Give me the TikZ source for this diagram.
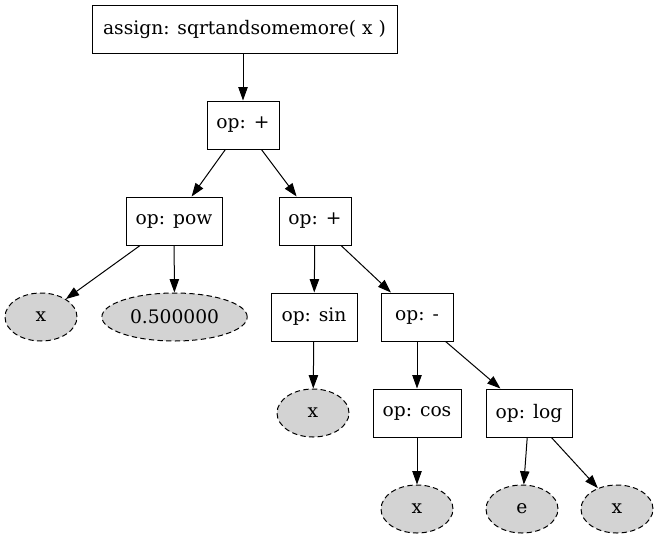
\documentclass[tikz,border=0pt]{standalone}
\usepackage{fontspec}
\setmainfont{DejaVu Serif}
\usetikzlibrary{arrows.meta,shapes.geometric}
\begin{document}
\begin{tikzpicture}[x=1pt,y=1pt,
  box/.style={draw, line width=0.75pt, rectangle, minimum height=36pt, inner sep=0pt, font=\fontsize{14}{16}\selectfont},
  leaf/.style={draw, line width=0.75pt, ellipse, dash pattern=on 4pt off 2.5pt, fill={rgb,255:red,211;green,211;blue,211}, minimum height=36pt, inner sep=0pt, font=\fontsize{14}{16}\selectfont},
  edge/.style={line width=0.75pt, -{Triangle[length=10pt,width=7pt]}}]
\useasboundingbox (0,0) rectangle (494.25,-404.25);
\node[box, minimum width=228.75pt] (assign) at (183.4,-21.75) {assign: sqrtandsomemore( x )};
\node[box, minimum width=54pt] (plus1) at (182.25,-93.75) {op: +};
\node[box, minimum width=72pt] (pow) at (130.5,-165.75) {op: pow};
\node[box, minimum width=54pt] (plus2) at (236.25,-165.75) {op: +};
\node[leaf, minimum width=54pt] (x1) at (30.75,-237.75) {x};
\node[leaf, minimum width=109pt] (half) at (130.9,-237.75) {0.500000};
\node[box, minimum width=64.5pt] (sin) at (235.5,-237.75) {op: sin};
\node[box, minimum width=54pt] (minus) at (312.75,-237.75) {op: -};
\node[leaf, minimum width=54pt] (x2) at (234.75,-309.75) {x};
\node[box, minimum width=66pt] (cos) at (312.75,-309.75) {op: cos};
\node[box, minimum width=64.5pt] (log) at (396.75,-309.75) {op: log};
\node[leaf, minimum width=54pt] (x3) at (312.75,-381.75) {x};
\node[leaf, minimum width=54pt] (e) at (391.5,-381.75) {e};
\node[leaf, minimum width=54pt] (x4) at (462.75,-381.75) {x};
\draw[edge] (assign.south -| plus1) -- (plus1);
\draw[edge] (plus1) -- (pow);
\draw[edge] (plus1) -- (plus2);
\draw[edge] (pow) -- (x1);
\draw[edge] (pow) -- (half);
\draw[edge] (plus2) -- (sin);
\draw[edge] (plus2) -- (minus);
\draw[edge] (sin) -- (x2);
\draw[edge] (minus) -- (cos);
\draw[edge] (minus) -- (log);
\draw[edge] (cos) -- (x3);
\draw[edge] (log) -- (e);
\draw[edge] (log) -- (x4);
\end{tikzpicture}
\end{document}
